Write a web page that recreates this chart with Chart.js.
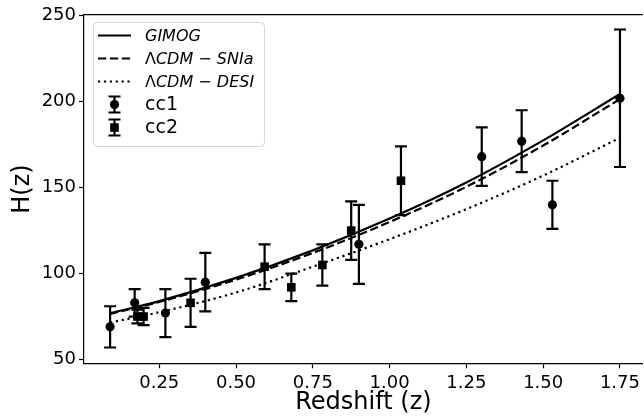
<!DOCTYPE html>
<html>
<head>
<meta charset="utf-8">
<script src="https://cdn.jsdelivr.net/npm/chart.js@4.4.1/dist/chart.umd.min.js"></script>
<style>
  html, body { margin: 0; padding: 0; background: #fff; }
  #wrap { width: 644px; height: 420px; position: relative; }
</style>
</head>
<body>
<div id="wrap"><canvas id="chart"></canvas></div>
<script>
// cosmic chronometer data (circles / squares)
const cc1Z = [0.09, 0.17, 0.27, 0.4, 0.9, 1.3, 1.43, 1.53, 1.75];
const cc1H = [69, 83, 77, 95, 117, 168, 177, 140, 202];
const cc1Err = [12, 8, 14, 17, 23, 17, 18, 14, 40];

const cc2Z = [0.179, 0.199, 0.352, 0.593, 0.68, 0.781, 0.875, 1.037];
const cc2H = [75, 75, 83, 104, 92, 105, 125, 154];
const cc2Err = [4, 5, 14, 13, 8, 12, 17, 20];

// model curves
const curveZ = [0.09, 0.25, 0.5, 0.75, 1.0, 1.25, 1.5, 1.75];
const gimogH = [77, 84, 97.5, 113.5, 132, 153, 177.5, 204.5];
const snH = [76.5, 83.5, 96.5, 112, 130, 150.5, 174.5, 201.5];
const desiH = [71.5, 77.5, 89, 104, 120, 137.5, 157, 179];

const xTicks = [0.25, 0.5, 0.75, 1.0, 1.25, 1.5, 1.75];
const yTicks = [50, 100, 150, 200, 250];

const FONT = "'DejaVu Sans', sans-serif";
const toPts = (xs, ys) => xs.map((x, i) => ({ x: x, y: ys[i] }));

const DASH = [8.3, 3.6];
const DOT = [2.2, 3.7];

const errorBars = {
    id: 'errorBars',
    afterDatasetsDraw(chart) {
        const ctx = chart.ctx;
        const xs = chart.scales.x, ys = chart.scales.y;
        ctx.save();
        ctx.strokeStyle = '#000';
        ctx.lineWidth = 2.2;
        chart.data.datasets.forEach(ds => {
            if (!ds.errors) return;
            ds.data.forEach((p, i) => {
                const px = xs.getPixelForValue(p.x);
                const top = ys.getPixelForValue(p.y + ds.errors[i]);
                const bot = ys.getPixelForValue(p.y - ds.errors[i]);
                ctx.beginPath();
                ctx.moveTo(px, top); ctx.lineTo(px, bot);
                ctx.moveTo(px - 6, top); ctx.lineTo(px + 6, top);
                ctx.moveTo(px - 6, bot); ctx.lineTo(px + 6, bot);
                ctx.stroke();
            });
        });
        // markers on top of the bars
        chart.data.datasets.forEach(ds => {
            if (!ds.errors) return;
            ds.data.forEach(p => {
                const px = xs.getPixelForValue(p.x);
                const py = ys.getPixelForValue(p.y);
                ctx.fillStyle = '#000';
                ctx.beginPath();
                if (ds.marker === 'circle') ctx.arc(px, py, 4.6, 0, Math.PI * 2);
                else ctx.rect(px - 4.3, py - 4.3, 8.6, 8.6);
                ctx.fill();
            });
        });
        ctx.restore();
    }
};

const frameAndLegend = {
    id: 'frameAndLegend',
    afterDraw(chart) {
        const ctx = chart.ctx;
        const a = chart.chartArea;
        ctx.save();
        ctx.strokeStyle = '#000';
        ctx.lineWidth = 1.2;
        ctx.beginPath();
        ctx.moveTo(a.left, a.top); ctx.lineTo(a.right, a.top);
        ctx.stroke();

        // legend box
        const bx = 93.5, by = 22.5, bw = 171, bh = 124, r = 4;
        ctx.globalAlpha = 0.8;
        ctx.fillStyle = '#fff';
        ctx.strokeStyle = '#cccccc';
        ctx.lineWidth = 1;
        ctx.beginPath();
        ctx.roundRect(bx, by, bw, bh, r);
        ctx.fill();
        ctx.stroke();
        ctx.globalAlpha = 1;

        const rowY = [35.5, 58.5, 81.5, 104.5, 127.5];
        const hx0 = 98, hx1 = 131, tx = 145;
        ctx.strokeStyle = '#000';
        ctx.fillStyle = '#000';
        ctx.lineWidth = 2.2;
        [[], DASH, DOT].forEach((d, i) => {
            ctx.setLineDash(d);
            ctx.beginPath();
            ctx.moveTo(hx0, rowY[i]); ctx.lineTo(hx1, rowY[i]);
            ctx.stroke();
        });
        ctx.setLineDash([]);
        [3, 4].forEach(i => {
            const cx = (hx0 + hx1) / 2, cy = rowY[i];
            ctx.beginPath();
            ctx.moveTo(cx, cy - 8); ctx.lineTo(cx, cy + 8);
            ctx.moveTo(cx - 6, cy - 8); ctx.lineTo(cx + 6, cy - 8);
            ctx.moveTo(cx - 6, cy + 8); ctx.lineTo(cx + 6, cy + 8);
            ctx.stroke();
            ctx.beginPath();
            if (i === 3) ctx.arc(cx, cy, 4.6, 0, Math.PI * 2);
            else ctx.rect(cx - 4.3, cy - 4.3, 8.6, 8.6);
            ctx.fill();
        });
        ctx.textBaseline = 'middle';
        ctx.textAlign = 'left';
        // math-style labels: upright Λ and minus, italic letters
        const mathLabels = [[['GIMOG', true]], [['Λ', false], ['CDM', true], [' − ', false], ['SNIa', true]],
            [['Λ', false], ['CDM', true], [' − ', false], ['DESI', true]]];
        mathLabels.forEach((parts, i) => {
            let x = tx;
            parts.forEach(([t, it]) => {
                ctx.font = (it ? 'italic ' : '') + '16px ' + FONT;
                ctx.fillText(t, x, rowY[i] + 1);
                x += ctx.measureText(t).width;
            });
        });
        ctx.font = '19px ' + FONT;
        ctx.fillText('cc1', tx, rowY[3] + 1);
        ctx.fillText('cc2', tx, rowY[4] + 1);
        ctx.restore();
    }
};

const lineDs = (label, ys, dash) => ({
    type: 'line',
    label: label,
    data: toPts(curveZ, ys),
    borderColor: '#000',
    borderWidth: 2.2,
    borderDash: dash,
    pointRadius: 0,
    fill: false,
    cubicInterpolationMode: 'monotone'
});

new Chart(document.getElementById('chart'), {
    type: 'scatter',
    data: {
        datasets: [
            lineDs('GIMOG', gimogH, []),
            lineDs('ΛCDM − SNIa', snH, DASH),
            lineDs('ΛCDM − DESI', desiH, DOT),
            { label: 'cc1', data: toPts(cc1Z, cc1H), errors: cc1Err, marker: 'circle', pointRadius: 0, showLine: false },
            { label: 'cc2', data: toPts(cc2Z, cc2H), errors: cc2Err, marker: 'square', pointRadius: 0, showLine: false }
        ]
    },
    options: {
        responsive: true,
        maintainAspectRatio: false,
        animation: false,
        layout: { padding: { top: 14.7, left: 0, right: 0, bottom: 0 } },
        plugins: { legend: { display: false }, tooltip: { enabled: false } },
        scales: {
            x: {
                type: 'linear',
                min: 0.005,
                max: 1.8246,
                afterBuildTicks: s => { s.ticks = xTicks.map(v => ({ value: v })); },
                afterFit: s => { s.height = 56.7; },
                ticks: {
                    callback: v => v.toFixed(2),
                    font: { size: 18, family: FONT },
                    color: '#000',
                    padding: 4,
                    maxRotation: 0,
                    autoSkip: false
                },
                grid: { drawOnChartArea: false, tickLength: 5, color: '#000', tickWidth: 1.2 },
                border: { color: '#000', width: 1.2 },
                title: {
                    display: true,
                    text: 'Redshift (z)',
                    font: { size: 24, family: FONT },
                    color: '#000',
                    padding: { top: 0, bottom: 3 }
                }
            },
            y: {
                type: 'linear',
                min: 47.8,
                max: 250.6,
                afterBuildTicks: s => { s.ticks = yTicks.map(v => ({ value: v })); },
                afterFit: s => { s.width = 84; },
                ticks: {
                    callback: v => String(v),
                    font: { size: 18, family: FONT },
                    color: '#000',
                    padding: 3
                },
                grid: { drawOnChartArea: false, tickLength: 5, color: '#000', tickWidth: 1.2 },
                border: { color: '#000', width: 1.2 },
                title: {
                    display: true,
                    text: 'H(z)',
                    font: { size: 24, family: FONT },
                    color: '#000',
                    padding: { top: 8, bottom: 0 }
                }
            }
        }
    },
    plugins: [errorBars, frameAndLegend]
});
</script>
</body>
</html>
